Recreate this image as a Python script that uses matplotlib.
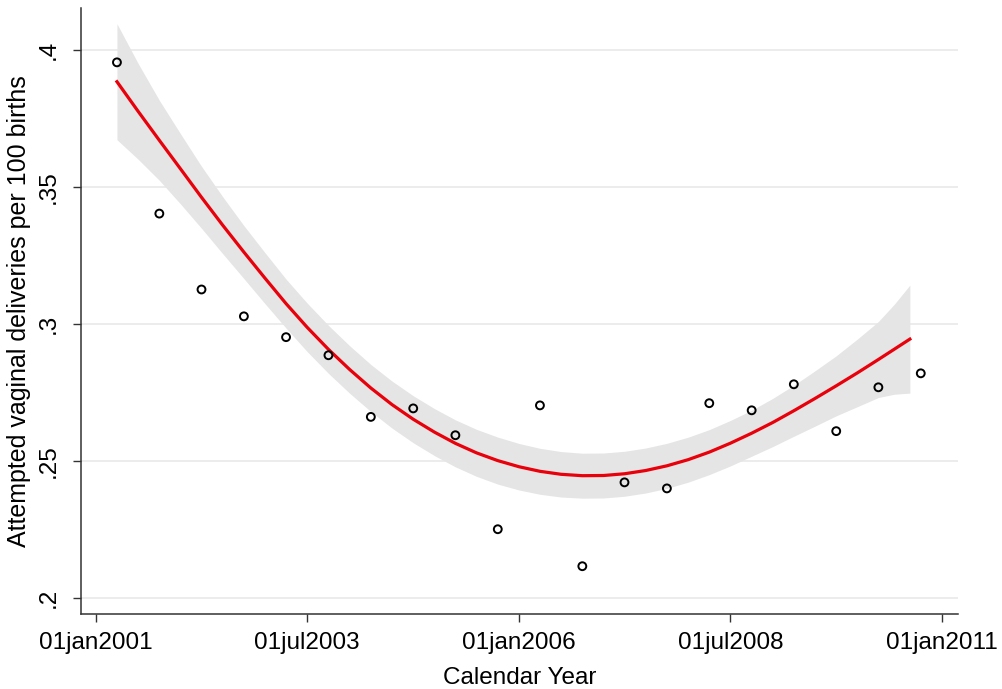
import datetime as dt
import numpy as np
import matplotlib
matplotlib.use("Agg")
import matplotlib.pyplot as plt
import matplotlib.dates as mdates
import matplotlib.ticker as mticker

plt.rcParams['font.family'] = ['Liberation Sans', 'DejaVu Sans']

# half-year points, 01apr / 01oct of each year
dates = [dt.date(y, m, 1) for y in range(2001, 2011) for m in (4, 10)]
rate = [0.3956, 0.3404, 0.3127, 0.3029, 0.2953, 0.2887, 0.2662, 0.2693,
        0.2595, 0.2252, 0.2704, 0.2117, 0.2423, 0.2401, 0.2712, 0.2686,
        0.2781, 0.2610, 0.2770, 0.2821]

# fitted curve and half-width of its 95% CI (quarterly)
fit_dates = [dt.date(y, m, 1) for y in range(2001, 2011) for m in (1, 4, 7, 10)
             if dt.date(2001, 4, 1) <= dt.date(y, m, 1) <= dt.date(2010, 4, 1)]
fit_dates += [dt.date(2010, 6, 8), dt.date(2010, 8, 15)]
fit = [0.38854, 0.37777, 0.36714, 0.35665, 0.34634, 0.33622, 0.32634, 0.31673,
       0.30754, 0.29890, 0.29084, 0.28346, 0.27674, 0.27071, 0.26534, 0.26062,
       0.25654, 0.25308, 0.25024, 0.24800, 0.24634, 0.24525, 0.24474, 0.24481,
       0.24544, 0.24662, 0.24834, 0.25059, 0.25334, 0.25659, 0.26024, 0.26420,
       0.26844, 0.27290, 0.27754, 0.28230, 0.28714, 0.29086, 0.29459]
ci_half = [0.02117, 0.01750, 0.01460, 0.01280, 0.01131, 0.01040, 0.00967, 0.00930,
           0.00894, 0.00885, 0.00876, 0.00867, 0.00858, 0.00858, 0.00858, 0.00858,
           0.00858, 0.00858, 0.00858, 0.00849, 0.00839, 0.00830, 0.00821, 0.00821,
           0.00821, 0.00821, 0.00821, 0.00821, 0.00821, 0.00830, 0.00839, 0.00880,
           0.00931, 0.01010, 0.01095, 0.01235, 0.01387, 0.01640, 0.01971]

tick_dates = [dt.date(2001, 1, 1), dt.date(2003, 7, 1), dt.date(2006, 1, 1),
              dt.date(2008, 7, 1), dt.date(2011, 1, 1)]
yticks = [0.2, 0.25, 0.3, 0.35, 0.4]
ytick_labels = ['.2', '.25', '.3', '.35', '.4']

x = mdates.date2num(dates)
xf = mdates.date2num(fit_dates)
lo = np.array(fit) - np.array(ci_half)
hi = np.array(fit) + np.array(ci_half)

fig = plt.figure(figsize=(10.03, 6.89), dpi=100)
ax = fig.add_axes([0.0808, 0.1089, 0.8744, 0.8795])

ax.fill_between(xf, lo, hi, color='#e5e5e5', lw=0, zorder=1)
ax.plot(xf, fit, color='#e8000b', lw=2.3, zorder=3, solid_joinstyle='round')
ax.scatter(x, rate, s=32, facecolors='none', edgecolors='black', linewidths=1.4, zorder=4)

ax.set_xlim(mdates.date2num(dt.date(2001, 1, 1)) - 65,
            mdates.date2num(dt.date(2011, 1, 1)) + 69)
ax.set_ylim(0.19427, 0.41544)

ax.set_xticks(mdates.date2num(tick_dates))
ax.xaxis.set_major_formatter(mticker.FuncFormatter(
    lambda v, p: mdates.num2date(v).strftime('%d%b%Y').lower()))
ax.set_yticks(yticks)
ax.set_yticklabels(ytick_labels, rotation=90, va='center')

ax.grid(True, axis='y', color='#ebebeb', lw=1.3)
ax.set_axisbelow(True)
for s in ['top', 'right']:
    ax.spines[s].set_visible(False)
for s in ['left', 'bottom']:
    ax.spines[s].set_color('#333333')
    ax.spines[s].set_linewidth(1.1)
ax.tick_params(axis='both', direction='out', length=6, width=1, color='#333333',
               labelsize=17.5, pad=9)
ax.tick_params(axis='x', pad=7)

ax.set_xlabel('Calendar Year', fontsize=17.5, labelpad=9)
ax.set_ylabel('Attempted vaginal deliveries per 100 births', fontsize=18, labelpad=5)

fig.savefig('out.png', dpi=100)
